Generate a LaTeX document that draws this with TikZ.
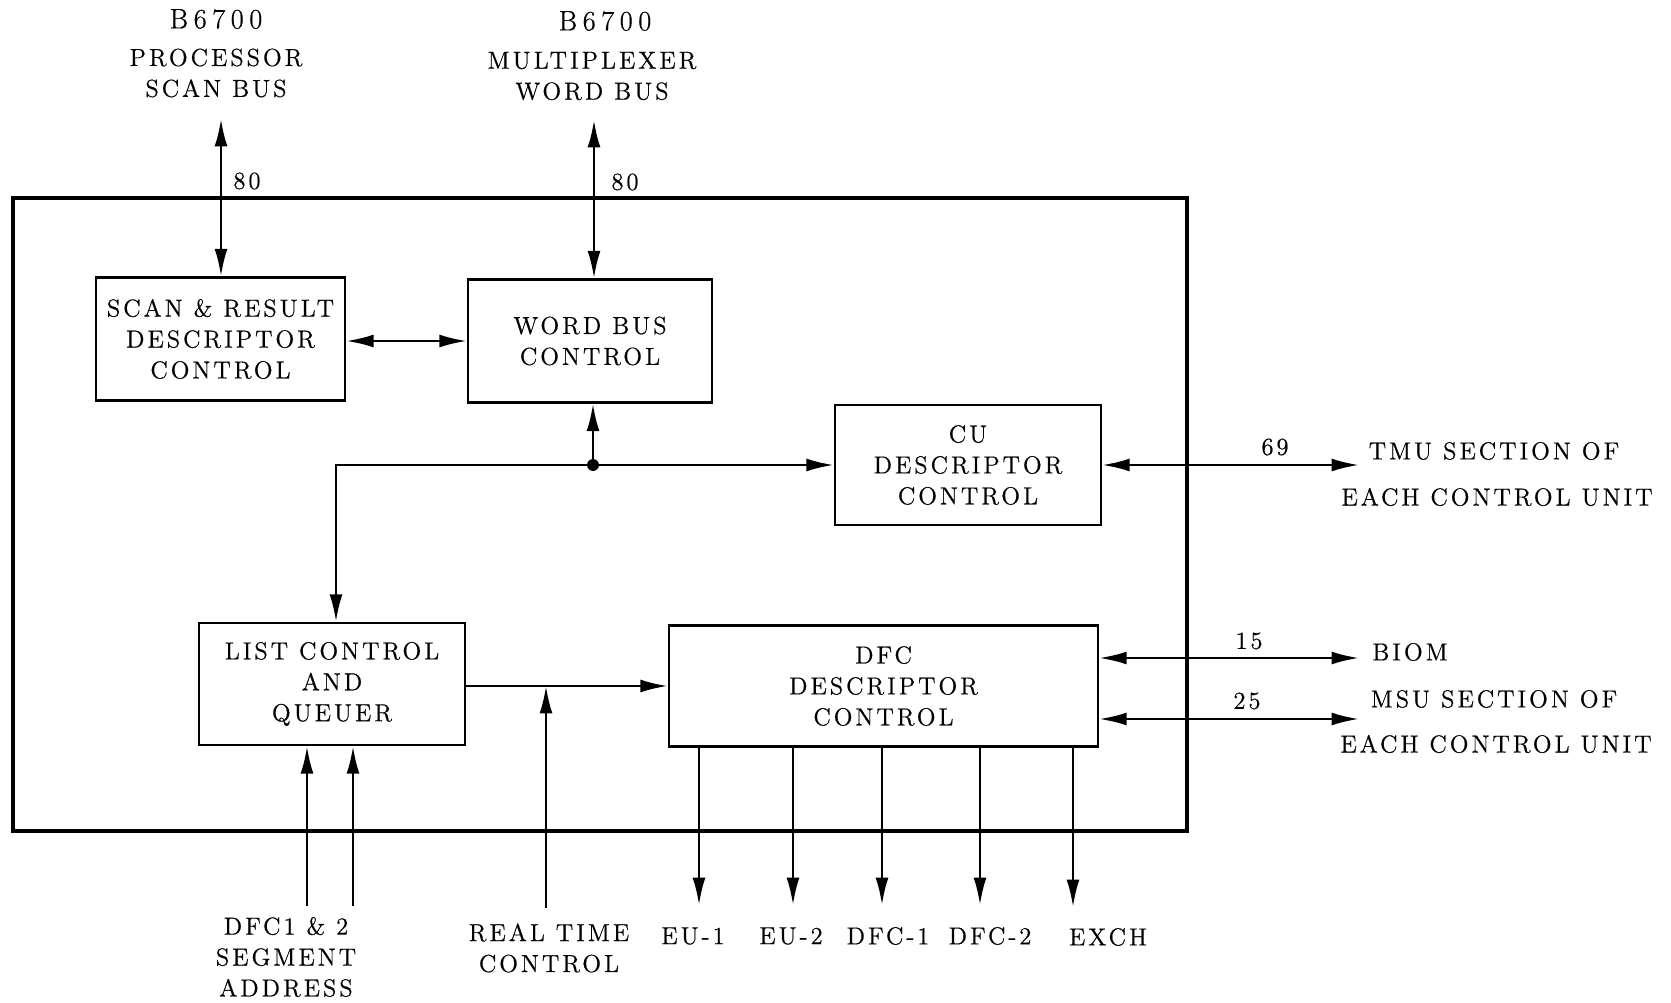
\documentclass[tikz,border=0pt]{standalone}
\usepackage{fontspec}
\setmainfont{Latin Modern Roman}[LetterSpace=12,FakeBold=0.6]
\usepackage{tikz}
\usetikzlibrary{arrows.meta,positioning,calc}

\begin{document}
\begin{tikzpicture}[
  x=0.02cm, y=-0.02cm,
  txt/.style={font=\fontsize{14}{17.6}\selectfont, align=center, inner sep=0pt},
  big/.style={font=\fontsize{16}{19}\selectfont\addfontfeatures{LetterSpace=20}, inner sep=0pt},
  blk/.style={draw, line width=1.4pt, txt},
  arr/.style={-{Latex[length=5.5mm,width=2.6mm]}, line width=1.4pt},
  biarr/.style={{Latex[length=5.5mm,width=2.6mm]}-{Latex[length=5.5mm,width=2.6mm]}, line width=1.4pt},
]
  \useasboundingbox (0,0) rectangle (1671,1003);

  % Outer frame
  \draw[line width=2.2pt] (13,198) rectangle (1187,831);

  % Row 1: scan and word bus blocks
  \node[blk, minimum width=249*0.02cm, minimum height=123*0.02cm] (scan) at (220.5,339) {SCAN \& RESULT\\DESCRIPTOR\\CONTROL};
  \node[blk, minimum width=244*0.02cm, minimum height=123*0.02cm] (wbc) at (590,341) {WORD BUS\\CONTROL};

  % Row 2: CU descriptor control
  \node[blk, minimum width=266*0.02cm, minimum height=120*0.02cm] (cu) at (968,465) {CU\\DESCRIPTOR\\CONTROL};

  % Row 3: list control and DFC descriptor control
  \node[blk, minimum width=266*0.02cm, minimum height=122*0.02cm] (list) at (332,684) {LIST CONTROL\\AND\\QUEUER};
  \node[blk, minimum width=429*0.02cm, minimum height=121*0.02cm] (dfc) at (883.5,686) {DFC\\DESCRIPTOR\\CONTROL};

  % Bus labels on top
  \node[big] (b1) at (216,19) {B6700};
  \node[txt] (psb) at (216,73) {PROCESSOR\\SCAN BUS};
  \node[big] (b2) at (605,21) {B6700};
  \node[txt] (mwb) at (592,76) {MULTIPLEXER\\WORD BUS};
  \coordinate (sbtop) at (221,119);
  \coordinate (wbtop) at (594,120);
  \node[txt] (n80a) at (247,181) {80};
  \node[txt] (n80b) at (625,182) {80};

  % Right side labels
  \coordinate (tmu) at (1359,465);
  \coordinate (biom) at (1359,658);
  \coordinate (msu) at (1359,719);
  \node[txt] (n69) at (1275,447) {69};
  \node[txt] (n15) at (1249,641) {15};
  \node[txt] (n25) at (1247,701) {25};
  \node[txt] (tmul1) at (1494,451) {TMU SECTION OF};
  \node[txt] (tmul2) at (1497,497) {EACH CONTROL UNIT};
  \node[txt, anchor=west] (biomL) at (1372,652) {BIOM};
  \node[txt] (msul1) at (1494,699) {MSU SECTION OF};
  \node[txt] (msul2) at (1496,744) {EACH CONTROL UNIT};

  % Bottom inputs and outputs
  \coordinate (seg1) at (307,906);
  \coordinate (seg2) at (353,906);
  \coordinate (rtc) at (546,908);
  \coordinate (eu1) at (699,905);
  \coordinate (eu2) at (793,905);
  \coordinate (dfc1) at (882,905);
  \coordinate (dfc2) at (980,905);
  \coordinate (exch) at (1073,907);
  \node[txt] (segl) at (286,957) {DFC1 \& 2\\SEGMENT\\ADDRESS};
  \node[txt] (rtcl) at (549,948) {REAL TIME\\CONTROL};
  \node[txt] (eu1l) at (693,936) {EU-1};
  \node[txt] (eu2l) at (791,936) {EU-2};
  \node[txt] (dfc1l) at (888,936) {DFC-1};
  \node[txt] (dfc2l) at (990,936) {DFC-2};
  \node[txt] (exchl) at (1108,937) {EXCH};

  % Internal bus with junction
  \coordinate (jn) at (593,465);
  \coordinate (lc) at (336,465);
  \fill (jn) circle (3.4pt);

  % Arrows
  \draw[biarr] (sbtop) -- (sbtop |- scan.north);
  \draw[biarr] (wbtop) -- (wbtop |- wbc.north);
  \draw[biarr] (scan.east |- 0,341) -- (wbc.west);
  \draw[arr] (jn) -- (jn |- wbc.south);
  \draw[arr] (jn) -- (cu.west);
  \draw[arr] (jn) -- (lc) -- (lc |- list.north);
  \draw[biarr] (cu.east) -- (tmu);
  \draw[biarr] (biom -| dfc.east) -- (biom);
  \draw[biarr] (msu -| dfc.east) -- (msu);
  \draw[arr] (list.east |- 0,686) -- (dfc.west);
  \draw[arr] (rtc) -- (rtc |- dfc.west);
  \draw[arr] (seg1) -- (seg1 |- list.south);
  \draw[arr] (seg2) -- (seg2 |- list.south);
  \foreach \o in {eu1,eu2,dfc1,dfc2,exch}
    \draw[arr] (\o |- dfc.south) -- (\o);
\end{tikzpicture}
\end{document}
